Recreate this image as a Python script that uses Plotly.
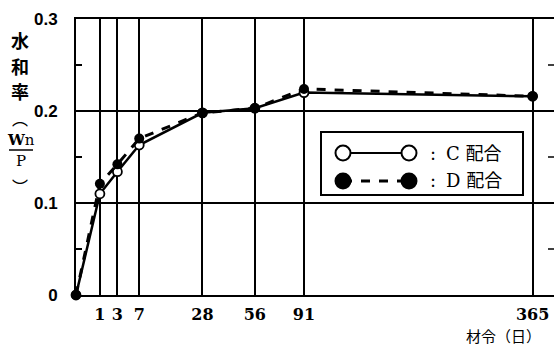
import numpy as np
import plotly.graph_objects as go

# ---- data ----
ages = [0, 1, 3, 7, 28, 56, 91, 365]
c_mix = [0.0, 0.110, 0.134, 0.163, 0.198, 0.203, 0.220, 0.216]
d_mix = [0.0, 0.121, 0.142, 0.170, 0.198, 0.203, 0.224, 0.216]
x_tick_ages = [1, 3, 7, 28, 56, 91, 365]
x_tick_labels = ["1", "3", "7", "28", "56", "91", "365"]
y_tick_vals = [0, 0.1, 0.2, 0.3]
y_tick_labels = ["0", "0.1", "0.2", "0.3"]
y_minor_vals = [0.05, 0.15, 0.25]

# square-root age scale as in the original chart
xs = np.sqrt(ages)
xt = np.sqrt(x_tick_ages)

W, H = 554, 347
L, R, T, B = 76, 0, 19, 52
PW, PH = W - L - R, H - T - B


def px(x):
    return (x - L) / PW


def py(y):
    return (T + PH - y) / PH


fig = go.Figure()
fig.add_trace(go.Scatter(
    x=xs, y=c_mix, mode="lines+markers", name="C配合", cliponaxis=False,
    line=dict(color="black", width=2.5),
    marker=dict(symbol="circle", size=9, color="white",
                line=dict(color="black", width=1.8)),
    showlegend=False))
fig.add_trace(go.Scatter(
    x=xs, y=d_mix, mode="lines+markers", name="D配合", cliponaxis=False,
    line=dict(color="black", width=3, dash="dash"),
    marker=dict(symbol="circle", size=10, color="black"),
    showlegend=False))

fig.update_layout(
    width=W, height=H,
    margin=dict(l=L, r=R, t=T, b=B, pad=0),
    paper_bgcolor="white", plot_bgcolor="white",
    xaxis=dict(
        range=[0, PW / 23.9], tickmode="array", tickvals=xt, ticktext=x_tick_labels,
        showgrid=True, gridcolor="black", gridwidth=1.6, zeroline=False,
        showline=True, linecolor="black", linewidth=2, mirror=True,
        ticks="", ticklabelstandoff=4,
        tickfont=dict(family="DejaVu Serif", size=16, color="black", weight="bold"),
    ),
    yaxis=dict(
        range=[0, 0.3], tickmode="array", tickvals=y_tick_vals, ticktext=y_tick_labels,
        showgrid=True, gridcolor="black", gridwidth=1.6, zeroline=False,
        showline=True, linecolor="black", linewidth=2, mirror=False,
        ticks="", ticklabelstandoff=13,
        tickfont=dict(family="Liberation Sans", size=17, color="black", weight="bold"),
        minor=dict(tickmode="array", tickvals=y_minor_vals, ticks="inside",
                   ticklen=6, tickwidth=1.5, tickcolor="black", showgrid=False),
    ),
)

shapes = []
# right-side minor ticks (frame itself lies just outside the image)
for v in y_minor_vals:
    shapes.append(dict(type="line", xref="paper", yref="y", x0=px(548), x1=1.0,
                       y0=v, y1=v, line=dict(color="black", width=1.5)))

# legend box
shapes.append(dict(type="rect", xref="paper", yref="paper",
                   x0=px(321), x1=px(523), y0=py(195), y1=py(132),
                   line=dict(color="black", width=2), fillcolor="white", layer="above"))
rows = [(153, "solid", 2, "white"), (181, "dash", 3, "black")]
for yy, dash, lw, fill in rows:
    shapes.append(dict(type="line", xref="paper", yref="paper",
                       x0=px(343), x1=px(409), y0=py(yy), y1=py(yy),
                       line=dict(color="black", width=lw, dash=dash), layer="above"))
    for cx in (343, 409):
        r = 7.5
        shapes.append(dict(type="circle", xref="paper", yref="paper",
                           x0=px(cx - r), x1=px(cx + r), y0=py(yy + r), y1=py(yy - r),
                           line=dict(color="black", width=2), fillcolor=fill, layer="above"))
# fraction bar of Wn/P
shapes.append(dict(type="line", xref="paper", yref="paper",
                   x0=px(9), x1=px(33), y0=py(150), y1=py(150),
                   line=dict(color="black", width=1.5)))
fig.update_layout(shapes=shapes)

cjk = "Noto Sans CJK JP"
ser = "DejaVu Serif, Noto Sans CJK JP"
ann = []


def add(text, x, y, size, family, xanchor="center", bold=False, yanchor="middle"):
    ann.append(dict(text=text, xref="paper", yref="paper", x=px(x), y=py(y),
                    xanchor=xanchor, yanchor=yanchor, showarrow=False, borderpad=0,
                    font=dict(family=family, size=size, color="black",
                              weight="bold" if bold else "normal")))


# legend texts
add(":", 433, 153, 18, ser)
add("C 配合", 445, 153, 18, ser, xanchor="left")
add(":", 433, 181, 18, ser)
add("D 配合", 445, 181, 18, ser, xanchor="left")

# y-axis title (vertical)
add("水", 20, 40, 18, cjk, bold=True)
add("和", 20, 66, 18, cjk, bold=True)
add("率", 20, 91, 18, cjk, bold=True)
add("︵", 20, 118, 16, cjk)
add("<b>W</b>n", 21, 140, 15, "DejaVu Serif")
add("P", 21, 161, 15, "DejaVu Serif")
add("︶", 20, 186, 16, cjk)

# x-axis title
add("材令（日）", 503, 347, 15, cjk, yanchor="bottom")

fig.update_layout(annotations=ann)
fig.write_html("out.html")
